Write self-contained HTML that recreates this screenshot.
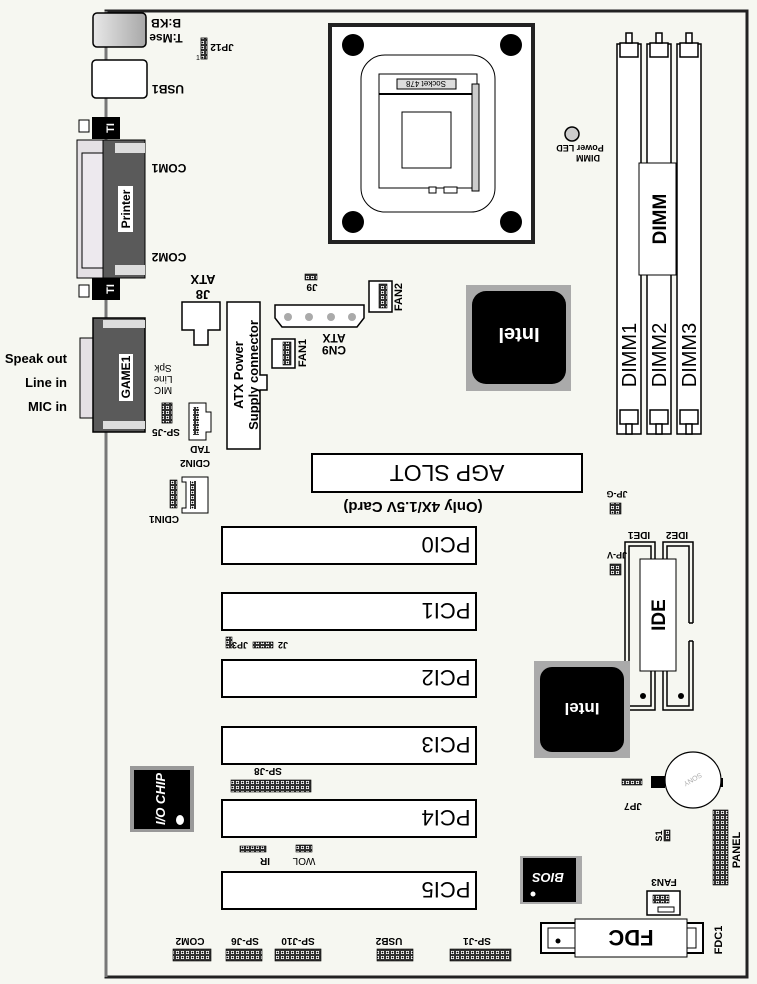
<!DOCTYPE html>
<html><head><meta charset="utf-8"><style>
html,body{margin:0;padding:0;background:#f6f7f1;}
svg{display:block;font-family:"Liberation Sans",sans-serif;}
</style></head><body>
<svg width="757" height="984" viewBox="0 0 757 984" xmlns="http://www.w3.org/2000/svg">
<defs>
<pattern id="pin" width="5" height="5" patternUnits="userSpaceOnUse"><rect x="0.5" y="0.5" width="4" height="4" fill="#fff" stroke="#000" stroke-width="0.8"/><circle cx="2.5" cy="2.5" r="0.9" fill="#000"/></pattern>
<linearGradient id="kb" x1="0" x2="1"><stop offset="0" stop-color="#e8e8e8"/><stop offset="1" stop-color="#a8a8a8"/></linearGradient>
</defs>
<rect width="757" height="984" fill="#f6f7f1"/>
<path d="M106 11 H747 V977 H106 Z" fill="none" stroke="#222" stroke-width="3"/>
<line x1="106" y1="11" x2="106" y2="977" stroke="#777" stroke-width="3"/>

<rect x="93" y="13" width="53" height="34" rx="4" fill="url(#kb)" stroke="#000" stroke-width="1.5"/>
<g font-weight="bold" font-size="12">
<text transform="rotate(180 166 23)" x="166" y="27" text-anchor="middle">B:KB</text>
<text transform="rotate(180 166 38)" x="166" y="42" text-anchor="middle">T:Mse</text>
<text transform="rotate(180 222 48)" x="222" y="52" text-anchor="middle" font-size="10">JP12</text>
<text transform="rotate(180 168 89)" x="168" y="93" text-anchor="middle">USB1</text>
<text transform="rotate(180 169 168)" x="169" y="172" text-anchor="middle">COM1</text>
<text transform="rotate(180 169 257)" x="169" y="261" text-anchor="middle">COM2</text>
</g>
<rect x="201" y="38" width="6" height="21" fill="url(#pin)" stroke="#000" stroke-width="0.8"/>
<text x="196" y="60" font-size="7">1</text>
<rect x="92" y="60" width="55" height="38" rx="4" fill="#fff" stroke="#000" stroke-width="1.5"/>

<rect x="79" y="120" width="10" height="12" fill="#fff" stroke="#000"/>
<rect x="79" y="285" width="10" height="12" fill="#fff" stroke="#000"/>
<path d="M77 140 H103 V278 H77 Z" fill="#e4e0e4" stroke="#000"/>
<path d="M82 153 H103 V268 H82 Z" fill="#ede9ee" stroke="#000"/>
<rect x="103" y="140" width="42" height="138" fill="#5a5a5a" stroke="#000"/>
<rect x="115" y="143" width="30" height="10" fill="#ddd"/>
<rect x="115" y="265" width="30" height="10" fill="#ddd"/>
<rect x="92" y="117" width="28" height="22" fill="#000"/>
<rect x="92" y="278" width="28" height="22" fill="#000"/>
<text transform="rotate(-90 110 128)" x="110" y="132" text-anchor="middle" fill="#fff" font-weight="bold" font-size="11">TI</text>
<text transform="rotate(-90 110 289)" x="110" y="293" text-anchor="middle" fill="#fff" font-weight="bold" font-size="11">TI</text>
<rect x="118" y="186" width="15" height="46" fill="#fff"/>
<text transform="rotate(-90 126 209)" x="126" y="213" text-anchor="middle" font-weight="bold" font-size="12">Printer</text>

<path d="M80 338 H103 V418 H80 Z" fill="#e4e0e4" stroke="#000"/>
<rect x="93" y="318" width="52" height="114" fill="#5a5a5a" stroke="#000" stroke-width="1.5"/>
<rect x="103" y="320" width="42" height="8" fill="#ddd"/>
<rect x="103" y="421" width="42" height="8" fill="#ddd"/>
<rect x="119" y="354" width="14" height="47" fill="#fff"/>
<text transform="rotate(-90 126 377)" x="126" y="381" text-anchor="middle" font-weight="bold" font-size="12">GAME1</text>
<g font-weight="bold" font-size="13" text-anchor="end">
<text x="67" y="363">Speak out</text>
<text x="67" y="387">Line in</text>
<text x="67" y="411">MIC in</text>
</g>
<g font-size="10" text-anchor="middle">
<text transform="rotate(180 163 368)" x="163" y="371">Spk</text>
<text transform="rotate(180 163 379)" x="163" y="382">Line</text>
<text transform="rotate(180 163 390)" x="163" y="393">MIC</text>
<text transform="rotate(180 166 433)" x="166" y="437" font-weight="bold">SP-J5</text>
<text transform="rotate(180 200 450)" x="200" y="454" font-weight="bold">TAD</text>
<text transform="rotate(180 195 464)" x="195" y="468" font-weight="bold">CDIN2</text>
<text transform="rotate(180 164 520)" x="164" y="524" font-weight="bold">CDIN1</text>
</g>
<rect x="162" y="403" width="10" height="20" fill="url(#pin)" stroke="#000" stroke-width="0.8"/>
<path d="M189 403 H206 V412 H211 V432 H206 V440 H189 Z" fill="#fff" stroke="#000"/>
<rect x="193" y="407" width="6" height="28" fill="url(#pin)"/>
<path d="M182 477 H208 V513 H182 V508 H186 V482 H182 Z" fill="#fff" stroke="#000"/>
<rect x="190" y="481" width="6" height="28" fill="url(#pin)"/>
<rect x="170" y="480" width="7" height="28" fill="url(#pin)" stroke="#000" stroke-width="0.6"/>

<text transform="rotate(180 203 280)" x="203" y="285" text-anchor="middle" font-weight="bold" font-size="13">ATX</text>
<text transform="rotate(180 203 295)" x="203" y="300" text-anchor="middle" font-weight="bold" font-size="13">J8</text>
<path d="M182 302 H220 V330 H208 V345 H194 V330 H182 Z" fill="#fff" stroke="#000" stroke-width="1.5"/>
<path d="M227 302 H260 V375 H267 V390 H260 V449 H227 Z" fill="#fff" stroke="#000" stroke-width="1.5"/>
<text transform="rotate(-90 238 375)" x="238" y="380" text-anchor="middle" font-weight="bold" font-size="13">ATX Power</text>
<text transform="rotate(-90 253 375)" x="253" y="380" text-anchor="middle" font-weight="bold" font-size="13">Supply connector</text>

<path d="M275 305 H364 V318 L357 327 H282 L275 318 Z" fill="#fff" stroke="#000" stroke-width="1.5"/>
<g fill="#aaa"><circle cx="288" cy="317" r="4"/><circle cx="309" cy="317" r="4"/><circle cx="331" cy="317" r="4"/><circle cx="352" cy="317" r="4"/></g>
<g font-weight="bold" font-size="12" text-anchor="middle">
<text transform="rotate(180 334 338)" x="334" y="342">ATX</text>
<text transform="rotate(180 334 350)" x="334" y="354">CN9</text>
<text transform="rotate(180 312 288)" x="312" y="292" font-size="10">J9</text>
<text transform="rotate(-90 302 353)" x="302" y="357" font-size="11">FAN1</text>
<text transform="rotate(-90 398 297)" x="398" y="301" font-size="11">FAN2</text>
</g>
<rect x="305" y="274" width="12" height="6" fill="url(#pin)" stroke="#000" stroke-width="0.6"/>
<rect x="272" y="339" width="23" height="29" fill="#fff" stroke="#000" stroke-width="1.5"/>
<rect x="283" y="342" width="8" height="23" fill="url(#pin)" stroke="#000" stroke-width="0.6"/>
<rect x="369" y="281" width="23" height="31" fill="#fff" stroke="#000" stroke-width="1.5"/>
<rect x="379" y="284" width="8" height="24" fill="url(#pin)" stroke="#000" stroke-width="0.6"/>

<rect x="330" y="25" width="203" height="217" fill="#fff" stroke="#222" stroke-width="4"/>
<g fill="#000"><circle cx="353" cy="45" r="11"/><circle cx="511" cy="45" r="11"/><circle cx="353" cy="222" r="11"/><circle cx="511" cy="222" r="11"/></g>
<rect x="361" y="55" width="134" height="157" rx="24" fill="none" stroke="#000"/>
<rect x="379" y="74" width="98" height="114" fill="#fff" stroke="#000"/>
<line x1="379" y1="94" x2="476" y2="94" stroke="#000" stroke-width="2"/>
<rect x="397" y="79" width="59" height="10" fill="#ddd" stroke="#000"/>
<text transform="rotate(180 426 84)" x="426" y="87" text-anchor="middle" font-size="8">Socket 478</text>
<rect x="402" y="112" width="49" height="56" fill="#fff" stroke="#000"/>
<rect x="472" y="84" width="7" height="107" fill="#ccc" stroke="#000"/>
<rect x="429" y="187" width="7" height="6" fill="#fff" stroke="#000"/>
<rect x="444" y="187" width="13" height="6" fill="#fff" stroke="#000"/>

<circle cx="572" cy="134" r="7" fill="#ccc" stroke="#000" stroke-width="1.5"/>
<text transform="rotate(180 580 148)" x="580" y="151" text-anchor="middle" font-size="9" font-weight="bold">Power LED</text>
<text transform="rotate(180 588 158)" x="588" y="161" text-anchor="middle" font-size="9" font-weight="bold">DIMM</text>

<g fill="#fff" stroke="#000" stroke-width="1.5">
<rect x="617" y="44" width="24" height="390"/>
<rect x="647" y="44" width="24" height="390"/>
<rect x="677" y="44" width="24" height="390"/>
</g>
<g fill="#fff" stroke="#000" stroke-width="1.5">
<rect x="620" y="43" width="18" height="14"/><rect x="650" y="43" width="18" height="14"/><rect x="680" y="43" width="18" height="14"/>
<rect x="626" y="33" width="6" height="10"/><rect x="656" y="33" width="6" height="10"/><rect x="686" y="33" width="6" height="10"/>
<rect x="620" y="410" width="18" height="14"/><rect x="650" y="410" width="18" height="14"/><rect x="680" y="410" width="18" height="14"/>
<rect x="626" y="424" width="6" height="10"/><rect x="656" y="424" width="6" height="10"/><rect x="686" y="424" width="6" height="10"/>
</g>
<rect x="639" y="163" width="37" height="112" fill="#fff" stroke="#000"/>
<text transform="rotate(-90 659 219)" x="659" y="226" text-anchor="middle" font-weight="bold" font-size="19">DIMM</text>
<g font-size="20" text-anchor="middle">
<text transform="rotate(-90 629 355)" x="629" y="362">DIMM1</text>
<text transform="rotate(-90 659 355)" x="659" y="362">DIMM2</text>
<text transform="rotate(-90 689 355)" x="689" y="362">DIMM3</text>
</g>

<rect x="466" y="285" width="105" height="106" fill="#aaa"/>
<rect x="472" y="291" width="94" height="93" rx="14" fill="#000"/>
<text transform="rotate(180 519 335)" x="519" y="342" text-anchor="middle" fill="#fff" font-weight="bold" font-size="20">Intel</text>

<rect x="312" y="454" width="270" height="38" fill="#fff" stroke="#000" stroke-width="2"/>
<text transform="rotate(180 447 473)" x="447" y="481" text-anchor="middle" font-size="23">AGP SLOT</text>
<text transform="rotate(180 413 507)" x="413" y="512" text-anchor="middle" font-weight="bold" font-size="15">(Only 4X/1.5V Card)</text>

<g font-size="9" font-weight="bold" text-anchor="middle">
<text transform="rotate(180 617 494)" x="617" y="497">JP-G</text>
<text transform="rotate(180 617 555)" x="617" y="558">JP-V</text>
<text transform="rotate(180 639 535)" x="639" y="538" font-size="10">IDE1</text>
<text transform="rotate(180 677 535)" x="677" y="538" font-size="10">IDE2</text>
<text transform="rotate(180 240 645)" x="240" y="648">JP3</text>
<text transform="rotate(180 283 645)" x="283" y="648">J2</text>
</g>
<rect x="610" y="503" width="11" height="11" fill="url(#pin)" stroke="#000" stroke-width="0.6"/>
<rect x="610" y="564" width="11" height="11" fill="url(#pin)" stroke="#000" stroke-width="0.6"/>
<rect x="226" y="637" width="6" height="11" fill="url(#pin)" stroke="#000" stroke-width="0.6"/>
<rect x="253" y="642" width="20" height="6" fill="url(#pin)" stroke="#000" stroke-width="0.6"/>

<g fill="none" stroke="#000" stroke-width="1.5">
<rect x="625" y="542" width="30" height="168"/><rect x="629" y="546" width="22" height="160"/>
<path d="M693 623 V542 H663 V710 H693 V641"/><path d="M689 623 V546 H667 V706 H689 V641"/>
<path d="M689 623 H693 M689 641 H693"/>
</g>
<rect x="640" y="559" width="36" height="112" fill="#fff" stroke="#000"/>
<text transform="rotate(-90 658 615)" x="658" y="622" text-anchor="middle" font-weight="bold" font-size="19">IDE</text>
<circle cx="643" cy="696" r="3" fill="#000"/><circle cx="681" cy="696" r="3" fill="#000"/>

<g fill="#fff" stroke="#000" stroke-width="2">
<rect x="222" y="527" width="254" height="37"/>
<rect x="222" y="593" width="254" height="37"/>
<rect x="222" y="660" width="254" height="37"/>
<rect x="222" y="727" width="254" height="37"/>
<rect x="222" y="800" width="254" height="37"/>
<rect x="222" y="872" width="254" height="37"/>
</g>
<g font-size="22" text-anchor="middle">
<text transform="rotate(180 446 545)" x="446" y="553">PCI0</text>
<text transform="rotate(180 446 611)" x="446" y="619">PCI1</text>
<text transform="rotate(180 446 678)" x="446" y="686">PCI2</text>
<text transform="rotate(180 446 745)" x="446" y="753">PCI3</text>
<text transform="rotate(180 446 818)" x="446" y="826">PCI4</text>
<text transform="rotate(180 446 890)" x="446" y="898">PCI5</text>
</g>

<rect x="534" y="661" width="96" height="97" fill="#aaa"/>
<rect x="540" y="667" width="84" height="85" rx="12" fill="#000"/>
<text transform="rotate(180 582 709)" x="582" y="715" text-anchor="middle" fill="#fff" font-weight="bold" font-size="17">Intel</text>

<text transform="rotate(180 268 772)" x="268" y="776" text-anchor="middle" font-weight="bold" font-size="10">SP-J8</text>
<rect x="231" y="780" width="80" height="12" fill="url(#pin)" stroke="#000" stroke-width="0.6"/>

<rect x="130" y="766" width="64" height="66" fill="#999"/>
<rect x="134" y="770" width="56" height="59" fill="#000"/>
<text transform="rotate(-90 160 799)" x="160" y="804" text-anchor="middle" fill="#fff" font-weight="bold" font-style="italic" font-size="13">I/O CHIP</text>
<ellipse cx="180" cy="820" rx="4" ry="5" fill="#fff"/>

<rect x="240" y="846" width="26" height="6" fill="url(#pin)" stroke="#000" stroke-width="0.6"/>
<rect x="296" y="845" width="16" height="7" fill="url(#pin)" stroke="#000" stroke-width="0.6"/>
<text transform="rotate(180 265 862)" x="265" y="866" text-anchor="middle" font-weight="bold" font-size="10">IR</text>
<text transform="rotate(180 304 862)" x="304" y="866" text-anchor="middle" font-size="10">WOL</text>

<rect x="520" y="856" width="62" height="48" fill="#aaa"/>
<rect x="523" y="858" width="53" height="44" fill="#000"/>
<text transform="rotate(180 548 878)" x="548" y="883" text-anchor="middle" fill="#fff" font-weight="bold" font-style="italic" font-size="13">BIOS</text>
<circle cx="533" cy="894" r="2.5" fill="#fff"/>

<text transform="rotate(180 633 807)" x="633" y="811" text-anchor="middle" font-weight="bold" font-size="10">JP7</text>
<rect x="622" y="779" width="20" height="6" fill="url(#pin)" stroke="#000" stroke-width="0.6"/>
<rect x="651" y="776" width="14" height="12" fill="#000"/>
<rect x="718" y="778" width="5" height="9" fill="#000"/>
<circle cx="693" cy="780" r="28" fill="#fff" stroke="#000" stroke-width="1.2"/>
<text transform="rotate(150 693 780)" x="693" y="783" text-anchor="middle" font-size="7" fill="#aaa">SONY</text>

<rect x="664" y="830" width="6" height="11" fill="url(#pin)" stroke="#000" stroke-width="0.6"/>
<text transform="rotate(-90 658 836)" x="658" y="840" text-anchor="middle" font-weight="bold" font-size="9">S1</text>
<rect x="713" y="810" width="15" height="75" fill="url(#pin)" stroke="#000" stroke-width="0.6"/>
<text transform="rotate(-90 736 850)" x="736" y="854" text-anchor="middle" font-weight="bold" font-size="11">PANEL</text>

<text transform="rotate(180 664 883)" x="664" y="887" text-anchor="middle" font-weight="bold" font-size="10">FAN3</text>
<rect x="647" y="891" width="33" height="24" fill="#fff" stroke="#000" stroke-width="1.5"/>
<rect x="653" y="895" width="16" height="8" fill="url(#pin)" stroke="#000" stroke-width="0.6"/>
<rect x="658" y="907" width="16" height="5" fill="#fff" stroke="#000"/>

<rect x="541" y="923" width="162" height="30" fill="#fff" stroke="#000" stroke-width="2"/>
<rect x="548" y="928" width="148" height="20" fill="none" stroke="#000"/>
<rect x="575" y="919" width="112" height="38" fill="#fff" stroke="#000"/>
<text transform="rotate(180 631 938)" x="631" y="946" text-anchor="middle" font-weight="bold" font-size="22">FDC</text>
<circle cx="558" cy="941" r="2.5" fill="#000"/>
<text transform="rotate(-90 718 940)" x="718" y="944" text-anchor="middle" font-weight="bold" font-size="11">FDC1</text>

<g font-weight="bold" font-size="10" text-anchor="middle">
<text transform="rotate(180 190 942)" x="190" y="946">COM2</text>
<text transform="rotate(180 245 942)" x="245" y="946">SP-J6</text>
<text transform="rotate(180 298 942)" x="298" y="946">SP-J10</text>
<text transform="rotate(180 389 942)" x="389" y="946">USB2</text>
<text transform="rotate(180 477 942)" x="477" y="946">SP-J1</text>
</g>
<rect x="173" y="949" width="38" height="12" fill="url(#pin)" stroke="#000" stroke-width="0.6"/>
<rect x="226" y="949" width="36" height="12" fill="url(#pin)" stroke="#000" stroke-width="0.6"/>
<rect x="275" y="949" width="46" height="12" fill="url(#pin)" stroke="#000" stroke-width="0.6"/>
<rect x="377" y="949" width="36" height="12" fill="url(#pin)" stroke="#000" stroke-width="0.6"/>
<rect x="450" y="949" width="61" height="12" fill="url(#pin)" stroke="#000" stroke-width="0.6"/>
</svg>
</body></html>
